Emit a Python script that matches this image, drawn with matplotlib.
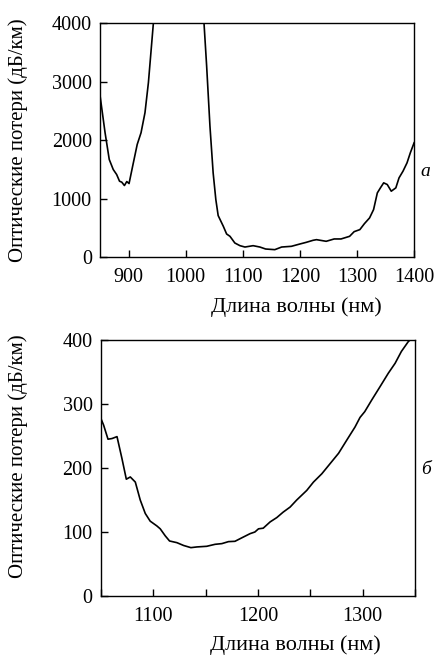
import numpy as np
import matplotlib
matplotlib.use('Agg')
import matplotlib.pyplot as plt
from matplotlib.ticker import MultipleLocator

plt.rcParams['font.family'] = ['Liberation Serif', 'DejaVu Serif']

# panel a: wide range (values above 4000 fall off the axes)
wl_a = [850, 858.7, 866, 873, 879, 884, 888, 892.6, 896.7, 900.7, 907, 915, 921.7,
        928.6, 934.6, 939, 943.3, 948, 1028, 1032, 1036.6, 1042.4, 1048, 1052.7,
        1056.8, 1065.8, 1071.6, 1077.5, 1086, 1095, 1103.7, 1118, 1129.8, 1140,
        1156, 1168, 1185, 1200, 1211, 1223, 1229, 1246, 1260, 1272, 1287, 1295,
        1305, 1313, 1322, 1329, 1335.6, 1341, 1346.7, 1353, 1360, 1368, 1373.6,
        1380.6, 1387.6, 1393.4, 1400]
loss_a = [2754, 2126, 1669, 1497, 1411, 1297, 1280, 1223, 1291, 1257, 1554, 1926,
          2126, 2469, 2983, 3497, 4000, 4500, 4500, 4000, 3269, 2240, 1440, 983,
          709, 526, 394, 354, 240, 194, 171, 194, 171, 137, 126, 171, 183, 223,
          251, 286, 297, 269, 309, 309, 354, 434, 469, 571, 669, 811, 1097, 1183,
          1269, 1240, 1126, 1183, 1354, 1469, 1611, 1783, 1954]

# panel b: zoom on the low-loss window
wl_b = [1050, 1052.5, 1056.7, 1060.5, 1065.3, 1070, 1074.2, 1078, 1082.8, 1087.5,
        1092.3, 1097, 1103.4, 1106.6, 1111.4, 1115.5, 1122.5, 1128.9, 1135.9,
        1141.6, 1151, 1159, 1165.5, 1171.8, 1178, 1184.6, 1192.5, 1197, 1200.5,
        1205, 1211.6, 1218, 1224, 1230.7, 1237, 1246.6, 1253, 1261, 1269, 1277,
        1285, 1292.7, 1297.5, 1302, 1308.6, 1316.6, 1324.5, 1331, 1337, 1343.6, 1346]
loss_b = [277, 267, 245, 246, 249, 215, 182.5, 186, 178, 150, 129, 117, 109.5, 105,
          94, 86, 83.4, 79, 75.6, 76.7, 77.7, 80.8, 81.9, 85, 85.5, 91, 97.5, 100,
          105, 106, 115.8, 122.6, 131, 139, 150, 165, 178, 191, 207, 223, 244, 264,
          279, 288, 306, 327, 348, 363.5, 382, 397.4, 401]

ylabel = 'Оптические потери (дБ/км)'
xlabel = 'Длина волны (нм)'

fig = plt.figure(figsize=(4.41, 6.55), dpi=100)
ax1 = fig.add_axes([0.227, 0.6076, 0.712, 0.357])
ax2 = fig.add_axes([0.229, 0.090, 0.712, 0.391])

for ax in (ax1, ax2):
    ax.tick_params(which='both', direction='in', width=1, labelsize=14.5,
                   top=False, right=False)
    ax.tick_params(axis='x', pad=8)
    ax.tick_params(axis='y', pad=6)
    ax.tick_params(which='both', length=5)
    for s in ax.spines.values():
        s.set_linewidth(1)
    ax.set_ylabel(ylabel, fontsize=15)
    ax.set_xlabel(xlabel, fontsize=16)

ax1.plot(wl_a, loss_a, color='black', lw=1.2)
ax1.set_xlim(850, 1400)
ax1.set_ylim(0, 4000)
ax1.set_xticks([900, 1000, 1100, 1200, 1300, 1400])
ax1.set_yticks([0, 1000, 2000, 3000, 4000])
ax1.yaxis.set_label_coords(-0.229, 0.5)
ax1.xaxis.set_label_coords(0.625, -0.17)
ax1.text(1.035, 0.367, 'а', transform=ax1.transAxes, fontsize=14, style='italic',
         va='center', ha='center')

ax2.plot(wl_b, loss_b, color='black', lw=1.2)
ax2.set_xlim(1050, 1350)
ax2.set_ylim(0, 400)
ax2.set_xticks([1100, 1200, 1300])
ax2.xaxis.set_minor_locator(MultipleLocator(50))
ax2.set_yticks([0, 100, 200, 300, 400])
ax2.yaxis.set_label_coords(-0.232, 0.547)
ax2.xaxis.set_label_coords(0.62, -0.155)
ax2.text(1.035, 0.496, 'б', transform=ax2.transAxes, fontsize=14, style='italic',
         va='center', ha='center')

plt.savefig('out.png', dpi=100)
